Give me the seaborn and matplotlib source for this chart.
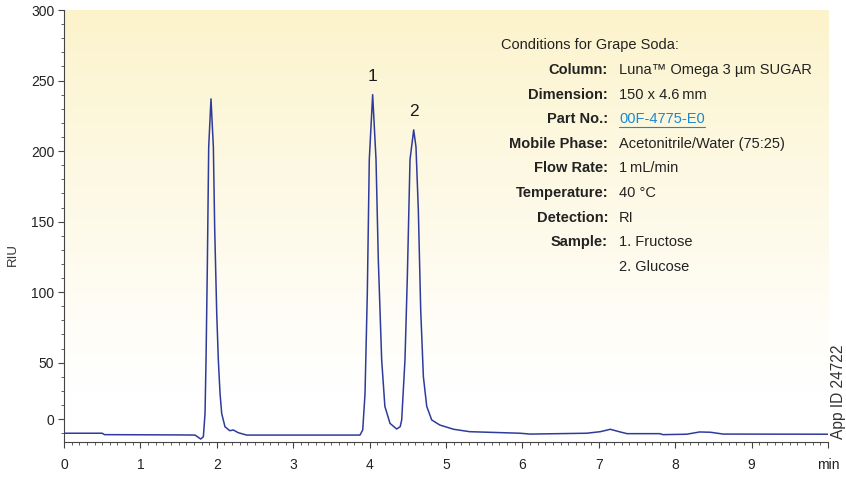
import numpy as np
import matplotlib
matplotlib.use("Agg")
import matplotlib.pyplot as plt
from matplotlib.lines import Line2D
from matplotlib.ticker import MultipleLocator, FixedLocator
import seaborn as sns
import pandas as pd

# Chromatogram trace: retention time (min) and detector response (RIU)
TIME = [0.00, 0.50, 0.53, 1.52, 1.715, 1.789, 1.824, 1.846, 1.859, 1.876, 1.894,
        1.924, 1.955, 1.972, 1.999, 2.020, 2.042, 2.064, 2.107, 2.170, 2.216,
        2.280, 2.390, 3.874, 3.910, 3.940, 3.970, 3.996, 4.040, 4.084, 4.114,
        4.158, 4.200, 4.267, 4.354, 4.400, 4.420, 4.463, 4.494, 4.529, 4.577,
        4.607, 4.638, 4.669, 4.704, 4.748, 4.813, 4.920, 5.100, 5.310, 5.970,
        6.100, 6.840, 7.020, 7.150, 7.280, 7.370, 7.800, 7.840, 8.150, 8.320,
        8.460, 8.630, 10.00]
RIU = [0.0, 0.0, -1.0, -1.2, -1.3, -4.1, -2.5, 14.0, 52.0, 118.0, 203.0,
       237.0, 203.0, 146.0, 85.0, 52.0, 28.5, 14.0, 4.6, 1.8, 2.3,
       0.4, -1.3, -1.3, 2.3, 28.0, 99.0, 194.0, 240.0, 194.0, 123.0,
       52.0, 19.0, 7.0, 3.0, 4.6, 9.4, 52.0, 111.0, 194.0, 215.0,
       203.0, 158.0, 87.0, 40.0, 19.0, 9.4, 5.8, 2.8, 1.1, 0.0,
       -0.6, 0.0, 1.1, 2.8, 0.9, -0.3, -0.3, -1.0, -0.7, 0.9,
       0.7, -0.6, -0.7]

# Numbered peaks
PEAK_LABELS = ["1", "2"]
PEAK_TIMES = [4.040, 4.577]
PEAK_HEIGHTS = [240.0, 215.0]

# Axis ticks
X_TICKS = [0, 1, 2, 3, 4, 5, 6, 7, 8, 9, 10]
X_TICK_LABELS = ["0", "1", "2", "3", "4", "5", "6", "7", "8", "9", "min"]
Y_TICKS = [10, 50, 100, 150, 200, 250, 300]
Y_TICK_LABELS = ["0", "50", "100", "150", "200", "250", "300"]

# Method conditions block
COND_TITLE = "Conditions for Grape Soda:"
COND_KEYS = ["Column:", "Dimension:", "Part No.:", "Mobile Phase:", "Flow Rate:",
             "Temperature:", "Detection:", "Sample:", ""]
COND_VALUES = ["Luna\u2122 Omega 3 \u00b5m SUGAR", "150 x 4.6\u2009mm", "00F-4775-E0",
               "Acetonitrile/Water (75:25)", "1\u2009mL/min", "40 \u00b0C", "RI",
               "1. Fructose", "2. Glucose"]
LINK_ROW = 2

sns.set_theme(style="white")
plt.rcParams["font.family"] = ["Liberation Sans", "DejaVu Sans"]
NARROW = ["Liberation Sans Narrow", "Liberation Sans", "DejaVu Sans"]

W, H = 846, 480
fig = plt.figure(figsize=(W / 100, H / 100), dpi=100)
fig.patch.set_facecolor("white")
ax_l, ax_r, ax_t, ax_b = 64, 828, 10, 441.7
ax = fig.add_axes([ax_l / W, 1 - ax_b / H, (ax_r - ax_l) / W, (ax_b - ax_t) / H])

xmin, xmax, ymin, ymax = 0, 10, -6, 300

# soft yellow (top) to white (bottom) background wash
top = np.array([252, 243, 203]) / 255.0
white = np.array([1.0, 1.0, 1.0])
t = np.linspace(0, 1, 256)
frac = np.clip(t / 0.88, 0, 1) ** 0.9
grad = (top[None, :] * (1 - frac[:, None]) + white[None, :] * frac[:, None])
grad = grad[:, None, :]
ax.imshow(grad, extent=[xmin, xmax, ymin, ymax], origin="upper", aspect="auto",
          zorder=0, interpolation="bilinear")

df = pd.DataFrame({"time": TIME, "riu": RIU})
sns.lineplot(data=df, x="time", y="riu", ax=ax, sort=False, estimator=None,
             color="#2f3b9c", linewidth=1.1, zorder=3)

ax.set_xlim(xmin, xmax)
ax.set_ylim(ymin, ymax)
ax.set_xlabel("")
ax.set_ylabel("")
ax.set_facecolor("none")

for side in ["top", "right"]:
    ax.spines[side].set_visible(False)
for side in ["left", "bottom"]:
    ax.spines[side].set_color("#444444")
    ax.spines[side].set_linewidth(0.8)

ax.xaxis.set_major_locator(FixedLocator(X_TICKS))
ax.set_xticklabels(X_TICK_LABELS)
ax.xaxis.set_minor_locator(MultipleLocator(0.1))
ax.yaxis.set_major_locator(FixedLocator(Y_TICKS))
ax.set_yticklabels(Y_TICK_LABELS)
ax.yaxis.set_minor_locator(FixedLocator([0, 20, 30, 40, 60, 70, 80, 90, 110, 120, 130, 140,
                                          160, 170, 180, 190, 210, 220, 230, 240,
                                          260, 270, 280, 290]))
ax.tick_params(axis="both", which="major", direction="out", length=4, width=0.8,
               color="#444444", labelsize=10, labelcolor="#222222", left=True, bottom=True)
ax.tick_params(axis="both", which="minor", direction="out", length=2.2, width=0.6,
               color="#444444", left=True, bottom=True)
ax.tick_params(axis="x", which="major", pad=8)
ax.tick_params(axis="y", which="major", pad=3)

# peak numbers
for lab, px, py in zip(PEAK_LABELS, PEAK_TIMES, PEAK_HEIGHTS):
    ax.annotate(lab, xy=(px, py), xytext=(0, 13), textcoords="offset points",
                ha="center", va="center", fontsize=12.5, color="#1a1a1a")

# y-axis label and application id
fig.text(13 / W, 1 - 255 / H, "RIU", rotation=90, ha="center", va="center",
         fontsize=9.5, color="#333333")
fig.text(838 / W, 1 - 392 / H, "App ID 24722", rotation=90, ha="center", va="center",
         fontsize=11.2, color="#333333")

# conditions block
fig.text(501 / W, 1 - 45.5 / H, COND_TITLE, ha="left", va="center",
         fontsize=10.5, color="#222222")
row0, step = 70.0, 24.6
key_x, val_x = 608, 619
link_text = None
for i, (k, v) in enumerate(zip(COND_KEYS, COND_VALUES)):
    y = 1 - (row0 + step * i) / H
    if k:
        fig.text(key_x / W, y, k, ha="right", va="center", fontsize=10.5,
                 fontweight="bold", color="#222222", family=NARROW)
    is_link = i == LINK_ROW
    txt = fig.text(val_x / W, y, v, ha="left", va="center", fontsize=10.5,
                   color="#1a8ad0" if is_link else "#222222", family=NARROW)
    if is_link:
        link_text = txt

fig.canvas.draw()
bb = link_text.get_window_extent()
uy = (bb.y0 - 0.5) / H
fig.add_artist(Line2D([bb.x0 / W, bb.x1 / W], [uy, uy], color="#1a8ad0", linewidth=0.8))

fig.savefig("out.png", dpi=100)
